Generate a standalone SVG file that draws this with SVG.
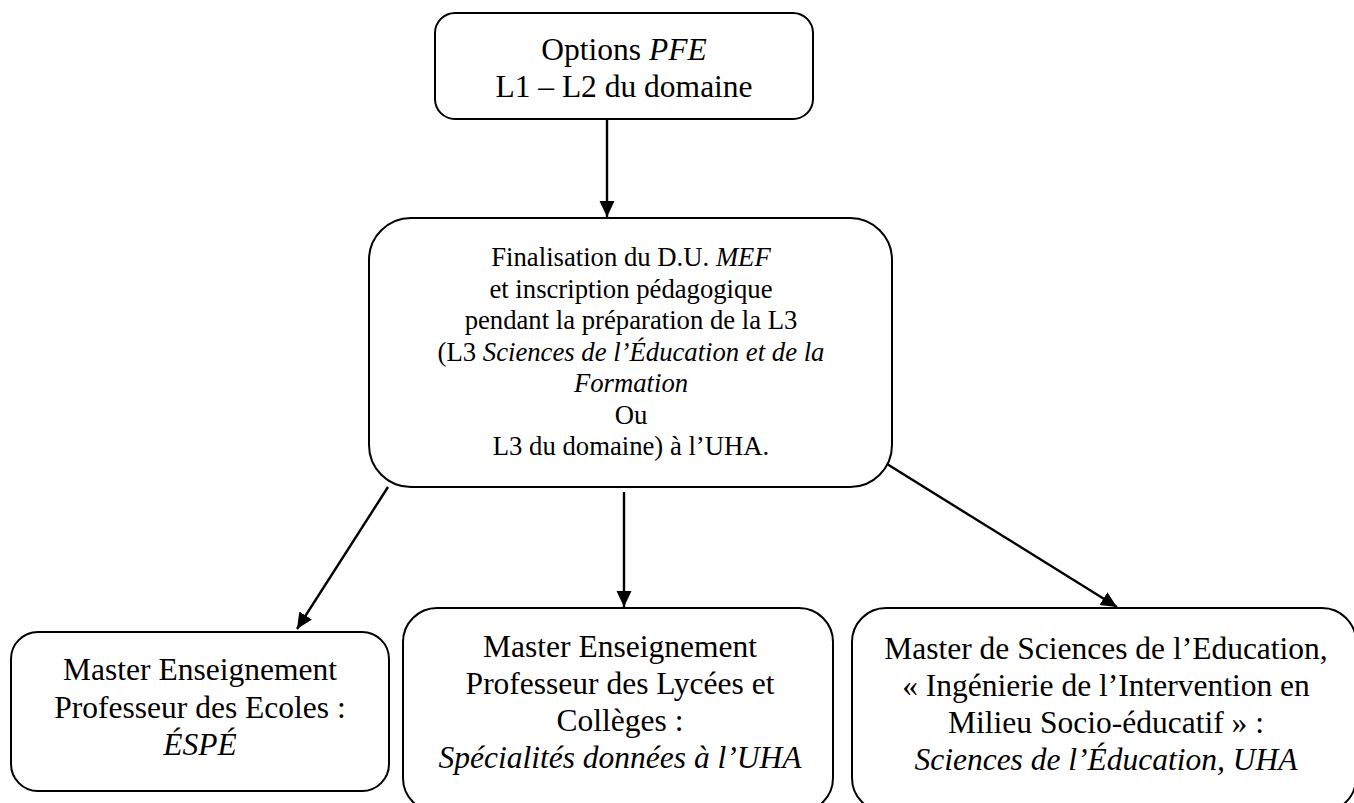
<svg xmlns="http://www.w3.org/2000/svg" width="1354" height="803" viewBox="0 0 1354 803">
<style>
.box{fill:#fff;stroke:#000;stroke-width:2}
.t{font-family:"Liberation Serif","Times New Roman",serif;fill:#000;text-anchor:middle}
.big{font-size:31.5px}
.mid{font-size:26.7px}
.i{font-style:italic}
.conn{stroke:#000;stroke-width:2.4;fill:none;marker-end:url(#ah)}
</style>
<defs>
<marker id="ah" markerUnits="userSpaceOnUse" markerWidth="17" markerHeight="16" refX="16" refY="7.5" orient="auto">
<path d="M0,0 L16,7.5 L0,15 z" fill="#000"/>
</marker>
</defs>
<rect width="1354" height="803" fill="#fff"/>
<g id="connectors">
<line class="conn" x1="607" y1="119" x2="607" y2="217"/>
<line class="conn" x1="624" y1="492" x2="624" y2="607"/>
<line class="conn" x1="388" y1="487" x2="297" y2="629"/>
<line class="conn" x1="887" y1="464" x2="1117" y2="607"/>
</g>
<g id="n-top">
<rect class="box" x="435" y="13" width="378" height="106" rx="20"/>
<text class="t big" x="624" y="60">Options <tspan class="i">PFE</tspan></text>
<text class="t big" x="624" y="97">L1 – L2 du domaine</text>
</g>
<g id="n-mid">
<rect class="box" x="369" y="218" width="523" height="269" rx="42"/>
<text class="t mid" x="631" y="266">Finalisation du D.U. <tspan class="i">MEF</tspan></text>
<text class="t mid" x="631" y="297.5">et inscription pédagogique</text>
<text class="t mid" x="631" y="329">pendant la préparation de la L3</text>
<text class="t mid" x="631" y="360.5">(L3 <tspan class="i">Sciences de l’Éducation et de la</tspan></text>
<text class="t mid i" x="631" y="392">Formation</text>
<text class="t mid" x="631" y="423.5">Ou</text>
<text class="t mid" x="631" y="455">L3 du domaine) à l’UHA.</text>
</g>
<g id="n-left">
<rect class="box" x="11" y="632" width="378" height="159" rx="27"/>
<text class="t big" x="200" y="680">Master Enseignement</text>
<text class="t big" x="200" y="718">Professeur des Ecoles :</text>
<text class="t big i" x="200" y="755">ÉSPÉ</text>
</g>
<g id="n-center">
<rect class="box" x="403" y="608" width="430" height="204" rx="34"/>
<text class="t big" x="620" y="657">Master Enseignement</text>
<text class="t big" x="620" y="694">Professeur des Lycées et</text>
<text class="t big" x="620" y="731">Collèges :</text>
<text class="t big i" x="620" y="768">Spécialités données à l’UHA</text>
</g>
<g id="n-right">
<rect class="box" x="852" y="608" width="504" height="204" rx="34"/>
<text class="t big" x="1106" y="659">Master de Sciences de l’Education,</text>
<text class="t big" x="1106" y="696">« Ingénierie de l’Intervention en</text>
<text class="t big" x="1106" y="733">Milieu Socio-éducatif » :</text>
<text class="t big i" x="1106" y="770">Sciences de l’Éducation, UHA</text>
</g>
</svg>
